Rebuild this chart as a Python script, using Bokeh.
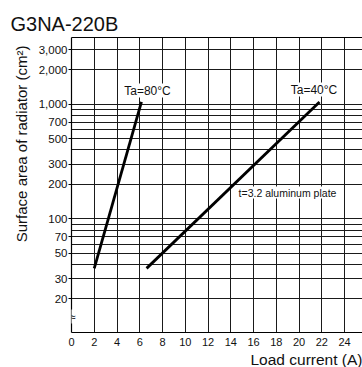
from bokeh.plotting import figure
from bokeh.models import (FixedTicker, Label, LogAxis, Range1d, Title)
from bokeh.embed import file_html
from bokeh.resources import INLINE

# ---- data ----
title_text = "G3NA-220B"
x_label = "Load current (A)"
y_label = "Surface area of radiator (cm\u00b2)"
x_ticks = [0, 2, 4, 6, 8, 10, 12, 14, 16, 18, 20, 22, 24]
x_grid = [2, 4, 6, 8, 10, 12, 14, 16, 18, 20, 22, 24]
y_ticks = [20, 30, 50, 70, 100, 200, 300, 500, 700, 1000, 2000, 3000]
y_tick_labels = ["20", "30", "50", "70", "100", "200", "300", "500", "700",
                 "1,000", "2,000", "3,000"]
y_grid = [20, 30, 40, 50, 60, 70, 80, 90, 100, 200, 300, 400, 500, 600, 700,
          800, 900, 1000, 2000, 3000]
ta80_x = [2.0, 6.15]
ta80_y = [37, 1050]
ta40_x = [6.6, 21.8]
ta40_y = [37, 1050]

FONT = "Liberation Sans"
INK = "#111111"

p = figure(width=362, height=367, output_backend="svg", toolbar_location=None,
           y_axis_type="log",
           x_range=Range1d(0, 25.58), y_range=Range1d(10.2, 3830),
           min_border_left=71, min_border_right=0, min_border_top=37,
           min_border_bottom=34)
p.background_fill_color = "white"
p.border_fill_color = "white"
p.outline_line_color = None

# grids
p.xgrid.ticker = FixedTicker(ticks=x_grid)
p.ygrid.ticker = FixedTicker(ticks=y_grid)
for g in (p.xgrid, p.ygrid):
    g.grid_line_color = "#1a1a1a"
    g.grid_line_width = 1
    g.grid_line_alpha = 1

# x axis
xa = p.xaxis[0]
xa.ticker = FixedTicker(ticks=x_ticks)
xa.major_tick_out = 0
xa.major_tick_in = 0
xa.minor_tick_out = 0
xa.minor_tick_in = 0
xa.major_label_standoff = 5
xa.major_label_text_font = FONT
xa.major_label_text_font_size = "11px"
xa.major_label_text_color = INK
xa.axis_line_color = "black"
xa.axis_line_width = 1.2

# y axis
ya = p.yaxis[0]
ya.ticker = FixedTicker(ticks=y_ticks)
ya.major_label_overrides = {t: s for t, s in zip(y_ticks, y_tick_labels)}
ya.major_tick_out = 3
ya.major_tick_in = 0
ya.minor_tick_out = 0
ya.minor_tick_in = 0
ya.major_label_standoff = 1
ya.major_label_text_font = FONT
ya.major_label_text_font_size = "11.5px"
ya.major_label_text_color = INK
ya.axis_line_color = "black"
ya.axis_line_width = 1.2

# top border
top = LogAxis(ticker=FixedTicker(ticks=[]), major_tick_out=0, major_tick_in=0,
              minor_tick_out=0, minor_tick_in=0,
              major_label_text_font_size="0px", axis_line_color="black")
p.add_layout(top, "above")

# titles used as chart title and axis labels
p.add_layout(Title(text=title_text, align="left", offset=-61, standoff=6,
                   text_font=FONT, text_font_size="20px", text_font_style="normal",
                   text_color=INK), "above")
p.add_layout(Title(text=y_label, align="right", offset=8, standoff=11,
                   text_font=FONT, text_font_size="15px", text_font_style="normal",
                   text_color=INK), "left")
p.add_layout(Title(text=x_label, align="right", offset=0, standoff=0,
                   text_font=FONT, text_font_size="15.5px", text_font_style="normal",
                   text_color=INK), "below")

# lines
p.line(ta80_x, ta80_y, line_color="black", line_width=2.8)
p.line(ta40_x, ta40_y, line_color="black", line_width=2.8)

def lab(text, x, y, size, bg=None):
    l = Label(x=x, y=y, x_units="screen", y_units="screen", text=text,
              text_font=FONT, text_font_size=size, text_align="center",
              text_baseline="middle", text_color=INK)
    if bg:
        l.background_fill_color = bg
        l.background_fill_alpha = 1
    p.add_layout(l)

lab("Ta=80\u00b0C", 76, 242, "12px", bg="white")
lab("Ta=40\u00b0C", 242.5, 243, "12px", bg="white")
lab("t=3.2 aluminum plate", 216, 140, "10.5px", bg="white")
lab("\u2248", 1, 16, "12px", bg="white")

open("out.html", "w").write(file_html(p, INLINE))
